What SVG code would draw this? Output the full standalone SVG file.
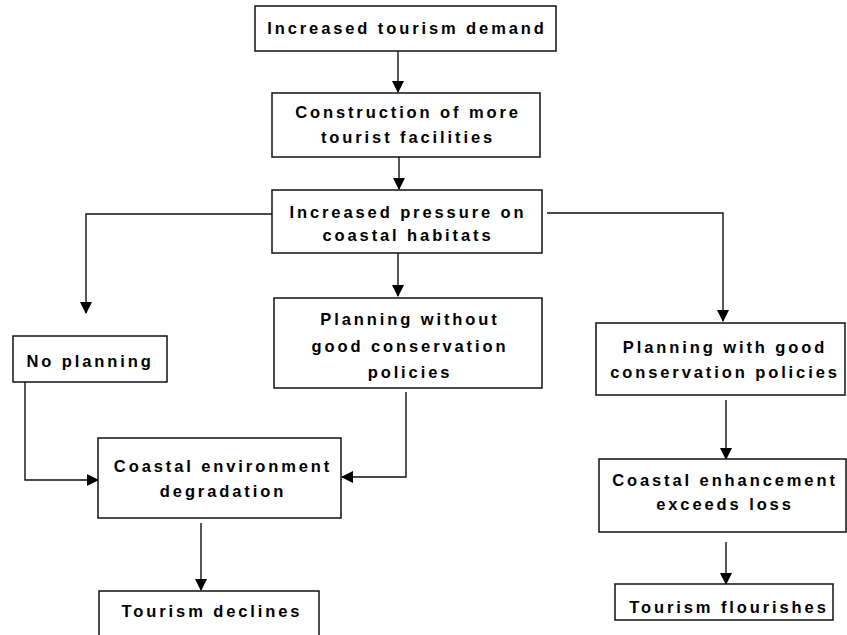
<svg xmlns="http://www.w3.org/2000/svg" width="847" height="635" viewBox="0 0 847 635">
<defs>
<marker id="ah" viewBox="0 0 12 12" refX="11" refY="6" markerWidth="12" markerHeight="12" markerUnits="userSpaceOnUse" orient="auto">
<path d="M0,0 L12,6 L0,12 z" fill="#000"/>
</marker>
<style>
.box{fill:#fff;stroke:#111;stroke-width:1.5}
.t{font-family:"Liberation Sans",Arial,sans-serif;font-weight:bold;font-size:16.5px;letter-spacing:2.9px;fill:#000;text-anchor:middle}
.c{fill:none;stroke:#111;stroke-width:1.4;marker-end:url(#ah)}
</style>
</defs>
<rect width="847" height="635" fill="#fff"/>
<g id="connectors">
<path class="c" d="M398,51 V92"/>
<path class="c" d="M399,157 V189"/>
<path class="c" d="M273,214 H86 V313"/>
<path class="c" d="M398,253 V296"/>
<path class="c" d="M547,213 H723 V321"/>
<path class="c" d="M25,382 V480 H98"/>
<path class="c" d="M406,392 V477 H342"/>
<path class="c" d="M201,523 V590"/>
<path class="c" d="M726,400 V459"/>
<path class="c" d="M726,542 V584"/>
</g>
<g id="n1">
<rect class="box" x="255" y="6" width="301" height="45"/>
<text class="t" x="407" y="34">Increased tourism demand</text>
</g>
<g id="n2">
<rect class="box" x="272" y="93" width="268" height="64"/>
<text class="t" x="408" y="118">Construction of more</text>
<text class="t" x="408" y="143">tourist facilities</text>
</g>
<g id="n3">
<rect class="box" x="272" y="190" width="270" height="63"/>
<text class="t" x="408" y="218">Increased pressure on</text>
<text class="t" x="408" y="241">coastal habitats</text>
</g>
<g id="n4">
<rect class="box" x="13" y="336" width="154" height="46"/>
<text class="t" x="90" y="367">No planning</text>
</g>
<g id="n5">
<rect class="box" x="274" y="298" width="268" height="90"/>
<text class="t" x="410" y="325">Planning without</text>
<text class="t" x="410" y="352">good conservation</text>
<text class="t" x="410" y="378">policies</text>
</g>
<g id="n6">
<rect class="box" x="596" y="323" width="249" height="72"/>
<text class="t" x="725" y="353">Planning with good</text>
<text class="t" x="725" y="378">conservation policies</text>
</g>
<g id="n7">
<rect class="box" x="98" y="438" width="243" height="80"/>
<text class="t" x="223" y="472">Coastal environment</text>
<text class="t" x="223" y="497">degradation</text>
</g>
<g id="n8">
<rect class="box" x="599" y="459" width="247" height="73"/>
<text class="t" x="725" y="486">Coastal enhancement</text>
<text class="t" x="725" y="510">exceeds loss</text>
</g>
<g id="n9">
<rect class="box" x="99" y="591" width="220" height="50"/>
<text class="t" x="212" y="617">Tourism declines</text>
</g>
<g id="n10">
<rect class="box" x="615" y="584" width="218" height="36"/>
<text class="t" x="729" y="613">Tourism flourishes</text>
</g>
</svg>
